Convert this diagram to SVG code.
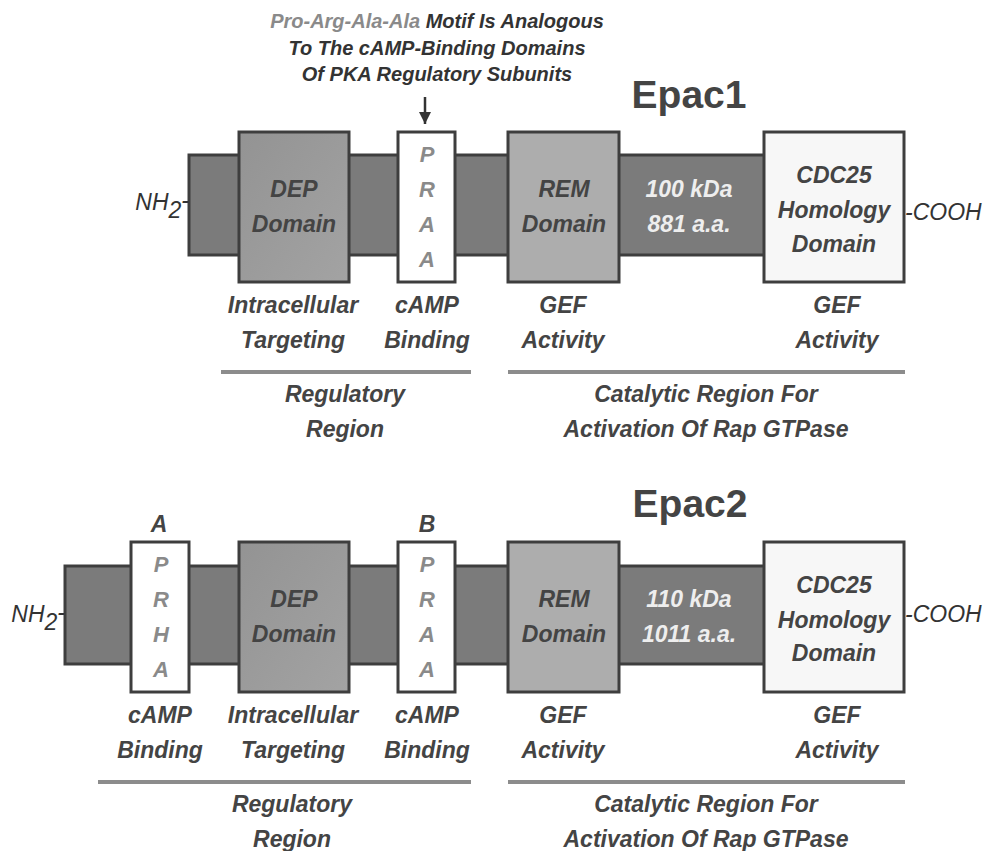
<svg xmlns="http://www.w3.org/2000/svg" width="984" height="851" viewBox="0 0 984 851">
<defs>
<linearGradient id="gDep" x1="0" y1="0" x2="1" y2="1"><stop offset="0" stop-color="#939393"/><stop offset="1" stop-color="#a3a3a3"/></linearGradient>
<marker id="ah" markerWidth="12" markerHeight="12" refX="10" refY="5" orient="auto" markerUnits="userSpaceOnUse" viewBox="0 0 10 10"><path d="M0,0 L10,5 L0,10 Z" fill="#333"/></marker>
</defs>
<style>
.bb{fill:#7b7b7b;stroke:#3e3e3e;stroke-width:3}
.dep{fill:url(#gDep);stroke:#3e3e3e;stroke-width:3}
.rem{fill:#adadad;stroke:#3e3e3e;stroke-width:3}
.cdc{fill:#f7f7f7;stroke:#3e3e3e;stroke-width:3}
.pr{fill:#ffffff;stroke:#3e3e3e;stroke-width:3}
text{font-family:"Liberation Sans",Arial,Helvetica,sans-serif;font-style:italic;font-weight:bold}
.t{font-size:23px;fill:#444;text-anchor:middle}
.w{font-size:23px;fill:#eeeeee;text-anchor:middle}
.l{font-size:22px;fill:#8a8a8a;text-anchor:middle}
.end{font-size:23px;font-weight:normal;fill:#333}
.ttl{font-size:39px;font-style:normal;fill:#444;text-anchor:middle}
.ann{font-size:20px;fill:#333;text-anchor:middle}
.div{stroke:#8c8c8c;stroke-width:4}
</style>
<rect width="984" height="851" fill="#ffffff"/>

<g id="annotation">
<text class="ann" x="437" y="28"><tspan fill="#8a8a8a">Pro-Arg-Ala-Ala</tspan> Motif Is Analogous</text>
<text class="ann" x="437" y="55">To The cAMP-Binding Domains</text>
<text class="ann" x="437" y="81">Of PKA Regulatory Subunits</text>
</g>

<g id="connectors">
<line x1="425" y1="97" x2="425" y2="124" stroke="#333" stroke-width="2.5" marker-end="url(#ah)"/>
</g>

<!-- Epac1 -->
<g id="epac1">
<text class="ttl" x="689" y="108">Epac1</text>
<g id="epac1-backbone"><rect class="bb" x="189" y="155" width="576" height="100"/></g>
<g id="epac1-nh2"><text class="end" x="189" y="210" text-anchor="end">NH<tspan dy="8">2</tspan><tspan dy="-10">-</tspan></text></g>
<g id="epac1-cooh"><text class="end" x="905" y="220">-COOH</text></g>
<g id="epac1-dep"><rect class="dep" x="239" y="132" width="110" height="150"/>
<text class="t" x="294" y="197">DEP</text><text class="t" x="294" y="232">Domain</text></g>
<g id="epac1-praa"><rect class="pr" x="398" y="132" width="57" height="150"/>
<text class="l" x="427" y="162">P</text><text class="l" x="427" y="197">R</text><text class="l" x="427" y="232">A</text><text class="l" x="427" y="267">A</text></g>
<g id="epac1-rem"><rect class="rem" x="508" y="132" width="111" height="150"/>
<text class="t" x="564" y="197">REM</text><text class="t" x="564" y="232">Domain</text></g>
<g id="epac1-size"><text class="w" x="689" y="197">100 kDa</text><text class="w" x="689" y="232">881 a.a.</text></g>
<g id="epac1-cdc25"><rect class="cdc" x="764" y="132" width="140" height="150"/>
<text class="t" x="834" y="183">CDC25</text><text class="t" x="834" y="218">Homology</text><text class="t" x="834" y="252">Domain</text></g>
<g id="epac1-labels">
<text class="t" x="293" y="313">Intracellular</text><text class="t" x="293" y="348">Targeting</text>
<text class="t" x="427" y="313">cAMP</text><text class="t" x="427" y="348">Binding</text>
<text class="t" x="563" y="313">GEF</text><text class="t" x="563" y="348">Activity</text>
<text class="t" x="837" y="313">GEF</text><text class="t" x="837" y="348">Activity</text>
<line class="div" x1="221" y1="372" x2="471" y2="372"/>
<line class="div" x1="508" y1="372" x2="905" y2="372"/>
<text class="t" x="345" y="402">Regulatory</text><text class="t" x="345" y="437">Region</text>
<text class="t" x="706" y="402">Catalytic Region For</text><text class="t" x="706" y="437">Activation Of Rap GTPase</text>
</g>
</g>

<!-- Epac2 -->
<g id="epac2">
<text class="ttl" x="690" y="517">Epac2</text>
<g id="epac2-backbone"><rect class="bb" x="65" y="566" width="700" height="98"/></g>
<g id="epac2-nh2"><text class="end" x="65" y="622" text-anchor="end">NH<tspan dy="8">2</tspan><tspan dy="-10">-</tspan></text></g>
<g id="epac2-cooh"><text class="end" x="905" y="622">-COOH</text></g>
<g id="epac2-prha"><text class="t" x="159" y="532">A</text><rect class="pr" x="131" y="542" width="58" height="150"/>
<text class="l" x="161" y="572">P</text><text class="l" x="161" y="607">R</text><text class="l" x="161" y="642">H</text><text class="l" x="161" y="677">A</text></g>
<g id="epac2-dep"><rect class="dep" x="239" y="542" width="110" height="150"/>
<text class="t" x="294" y="607">DEP</text><text class="t" x="294" y="642">Domain</text></g>
<g id="epac2-praa"><text class="t" x="427" y="532">B</text><rect class="pr" x="398" y="542" width="57" height="150"/>
<text class="l" x="427" y="572">P</text><text class="l" x="427" y="607">R</text><text class="l" x="427" y="642">A</text><text class="l" x="427" y="677">A</text></g>
<g id="epac2-rem"><rect class="rem" x="508" y="542" width="111" height="150"/>
<text class="t" x="564" y="607">REM</text><text class="t" x="564" y="642">Domain</text></g>
<g id="epac2-size"><text class="w" x="689" y="607">110 kDa</text><text class="w" x="689" y="642">1011 a.a.</text></g>
<g id="epac2-cdc25"><rect class="cdc" x="764" y="542" width="140" height="150"/>
<text class="t" x="834" y="593">CDC25</text><text class="t" x="834" y="628">Homology</text><text class="t" x="834" y="661">Domain</text></g>
<g id="epac2-labels">
<text class="t" x="160" y="723">cAMP</text><text class="t" x="160" y="758">Binding</text>
<text class="t" x="293" y="723">Intracellular</text><text class="t" x="293" y="758">Targeting</text>
<text class="t" x="427" y="723">cAMP</text><text class="t" x="427" y="758">Binding</text>
<text class="t" x="563" y="723">GEF</text><text class="t" x="563" y="758">Activity</text>
<text class="t" x="837" y="723">GEF</text><text class="t" x="837" y="758">Activity</text>
<line class="div" x1="98" y1="782" x2="471" y2="782"/>
<line class="div" x1="508" y1="782" x2="905" y2="782"/>
<text class="t" x="292" y="812">Regulatory</text><text class="t" x="292" y="847">Region</text>
<text class="t" x="706" y="812">Catalytic Region For</text><text class="t" x="706" y="847">Activation Of Rap GTPase</text>
</g>
</g>
</svg>
